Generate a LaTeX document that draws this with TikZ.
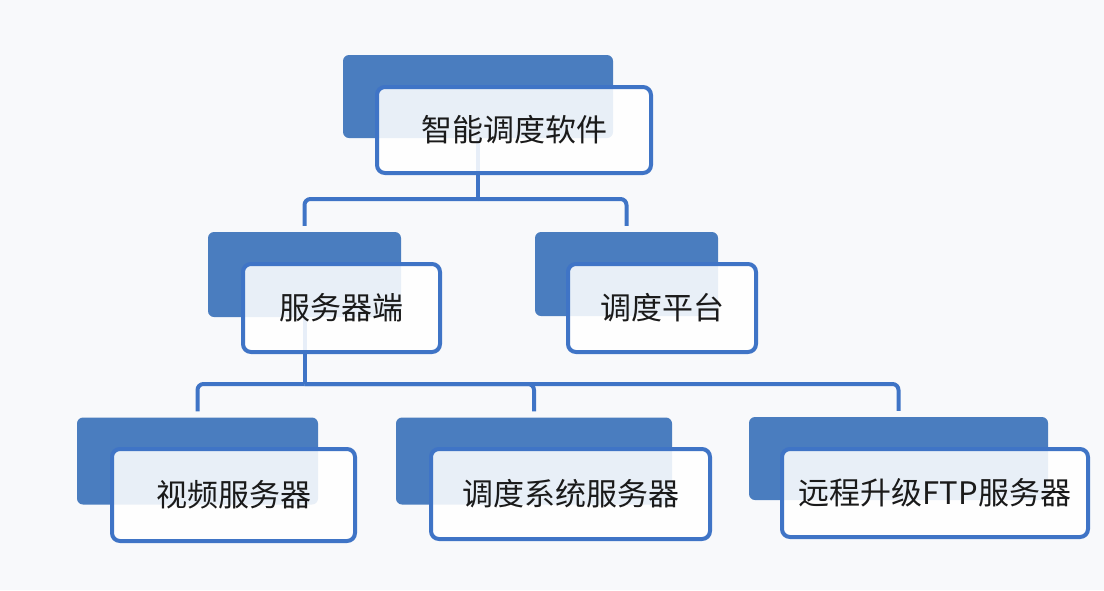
\documentclass[tikz,border=0pt]{standalone}
\usepackage{fontspec}
\setmainfont{Noto Sans CJK SC}
\definecolor{backblue}{HTML}{4A7DBF}
\definecolor{lineblue}{HTML}{3F74C6}
\definecolor{bgcol}{HTML}{F8F9FB}
\definecolor{txt}{HTML}{1A1A1A}
\pgfdeclarelayer{bgfill}
\pgfdeclarelayer{lines}
\pgfsetlayers{bgfill,lines,main}
\tikzset{
  backbox/.style={draw=none, fill=backblue, rounded corners=6pt, inner sep=0pt},
  frontbox/.style={draw=lineblue, line width=4pt, fill=white, fill opacity=0.88, text opacity=1,
    rounded corners=8pt, inner sep=0pt, text=txt, font=\fontsize{31}{36}\selectfont},
  conn/.style={draw=lineblue, line width=4pt, rounded corners=6pt},
}
\begin{document}
\begin{tikzpicture}[x=1pt,y=-1pt]
\begin{pgfonlayer}{bgfill}
\fill[bgcol] (0,0) rectangle (1104,590);
\end{pgfonlayer}
\useasboundingbox (0,0) rectangle (1104,590);
% level 1
\node[backbox, minimum width=270pt, minimum height=83pt] (tb) at (478,96.5) {};
\node[frontbox, minimum width=274pt, minimum height=86pt] (tf) at (514,130) {智能调度软件};
% level 2
\node[backbox, minimum width=193pt, minimum height=85pt] (ab) at (304.5,274.5) {};
\node[frontbox, minimum width=197pt, minimum height=88pt] (af) at (341.5,308) {服务器端};
\node[backbox, minimum width=183pt, minimum height=84pt] (bb) at (626.5,274) {};
\node[frontbox, minimum width=188pt, minimum height=88pt] (bf) at (662,308) {调度平台};
% level 3
\node[backbox, minimum width=241pt, minimum height=87pt] (cb) at (197.5,461) {};
\node[frontbox, minimum width=243pt, minimum height=92pt] (cf) at (233.5,495) {视频服务器};
\node[backbox, minimum width=276pt, minimum height=87pt] (db) at (534,461) {};
\node[frontbox, minimum width=279pt, minimum height=90pt] (df) at (570.5,494) {调度系统服务器};
\node[backbox, minimum width=299pt, minimum height=83pt] (eb) at (898.5,458.5) {};
\node[frontbox, minimum width=306pt, minimum height=88pt] (ef) at (935,493) {远程升级FTP服务器};
% connectors
\coordinate (j1) at (478,199);
\coordinate (j2) at (304.5,384);
\begin{pgfonlayer}{lines}
\draw[conn] (tb.south) -- (j1);
\draw[conn, shorten >=6pt] (j1) -| (ab.north);
\draw[conn, shorten >=6pt] (j1) -| (bb.north);
\draw[conn] (ab.south) -- (j2);
\draw[conn, shorten >=6pt] (j2) -| (cb.north);
\draw[conn, shorten >=6pt] (j2) -| (db.north);
\draw[conn, shorten >=6pt] (j2) -| (eb.north);
\end{pgfonlayer}
\end{tikzpicture}
\end{document}
